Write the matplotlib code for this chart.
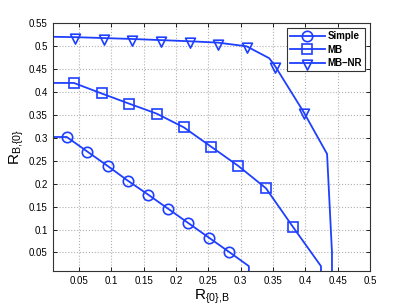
import matplotlib
matplotlib.use('Agg')
import matplotlib.pyplot as plt
from matplotlib.path import Path

plt.rcParams['font.family'] = ['Liberation Sans', 'DejaVu Sans']
plt.rcParams['mathtext.default'] = 'regular'

# data
simple_x = [0.0, 0.031, 0.063, 0.094, 0.125, 0.157, 0.188, 0.219, 0.251, 0.282, 0.3125, 0.3125]
simple_y = [0.302, 0.302, 0.270, 0.239, 0.207, 0.176, 0.145, 0.114, 0.082, 0.051, 0.02, 0.0]

mb_x = [0.0, 0.042, 0.085, 0.127, 0.170, 0.212, 0.254, 0.296, 0.339, 0.381, 0.424, 0.424]
mb_y = [0.42, 0.42, 0.397, 0.375, 0.353, 0.323, 0.281, 0.239, 0.190, 0.105, 0.02, 0.0]

mbnr_x = [0.0, 0.044, 0.088, 0.1325, 0.177, 0.221, 0.265, 0.309, 0.344, 0.353, 0.397, 0.4334, 0.441, 0.441]
mbnr_y = [0.521, 0.520, 0.518, 0.516, 0.5135, 0.511, 0.508, 0.500, 0.474, 0.457, 0.357, 0.265, 0.05, 0.0]

xticks = [0.05, 0.1, 0.15, 0.2, 0.25, 0.3, 0.35, 0.4, 0.45, 0.5]
yticks = [0.05, 0.1, 0.15, 0.2, 0.25, 0.3, 0.35, 0.4, 0.45, 0.5, 0.55]

blue = '#1f3fff'

# downward triangle centred on its centroid (like matlab's 'v')
tri_down = Path([(-1, 0.667), (1, 0.667), (0, -1.333), (-1, 0.667)],
                [Path.MOVETO, Path.LINETO, Path.LINETO, Path.CLOSEPOLY])

fig = plt.figure(figsize=(4.09, 3.08), dpi=100)
ax = fig.add_axes([0.130, 0.121, 0.775, 0.803])

ax.plot(simple_x, simple_y, color=blue, lw=1.3, marker='o', ms=7.5, mfc='none',
        mec=blue, mew=1.2, markevery=list(range(1, 10)), label='Simple')
ax.plot(mb_x, mb_y, color=blue, lw=1.3, marker='s', ms=6.5, mfc='none',
        mec=blue, mew=1.2, markevery=list(range(1, 10)), label='MB')
ax.plot(mbnr_x, mbnr_y, color=blue, lw=1.3, marker=tri_down, ms=9.5, mfc='none',
        mec=blue, mew=1.2, markevery=[1, 2, 3, 4, 5, 6, 7, 9, 10], label='MB\u2013NR')

ax.set_xlim(0.01, 0.5)
ax.set_ylim(0.01, 0.55)
ax.set_xticks(xticks)
ax.set_xticklabels([('%g' % t) for t in xticks])
ax.set_yticks(yticks)
ax.set_yticklabels([('%g' % t) for t in yticks])
ax.tick_params(direction='in', top=True, right=True, labelsize=7, length=3, width=0.6, pad=4)
ax.grid(True, linestyle=':', color='#b0b0b0', linewidth=0.8)
for s in ax.spines.values():
    s.set_linewidth(0.8)
    s.set_color('#333333')

ax.set_xlabel(r'R$_{\{0\}{,}B}$', fontsize=11, labelpad=1)
ax.set_ylabel(r'R$_{B{,}\{0\}}$', fontsize=11, labelpad=2)

leg = ax.legend(loc='upper right', prop={'weight': 'bold', 'size': 7},
                fancybox=False, edgecolor='#333333', framealpha=1,
                handlelength=3.6, borderaxespad=0.5, labelspacing=0.35,
                handletextpad=0.3, borderpad=0.3)
leg.get_frame().set_linewidth(0.8)

fig.savefig('out.png', dpi=100)
